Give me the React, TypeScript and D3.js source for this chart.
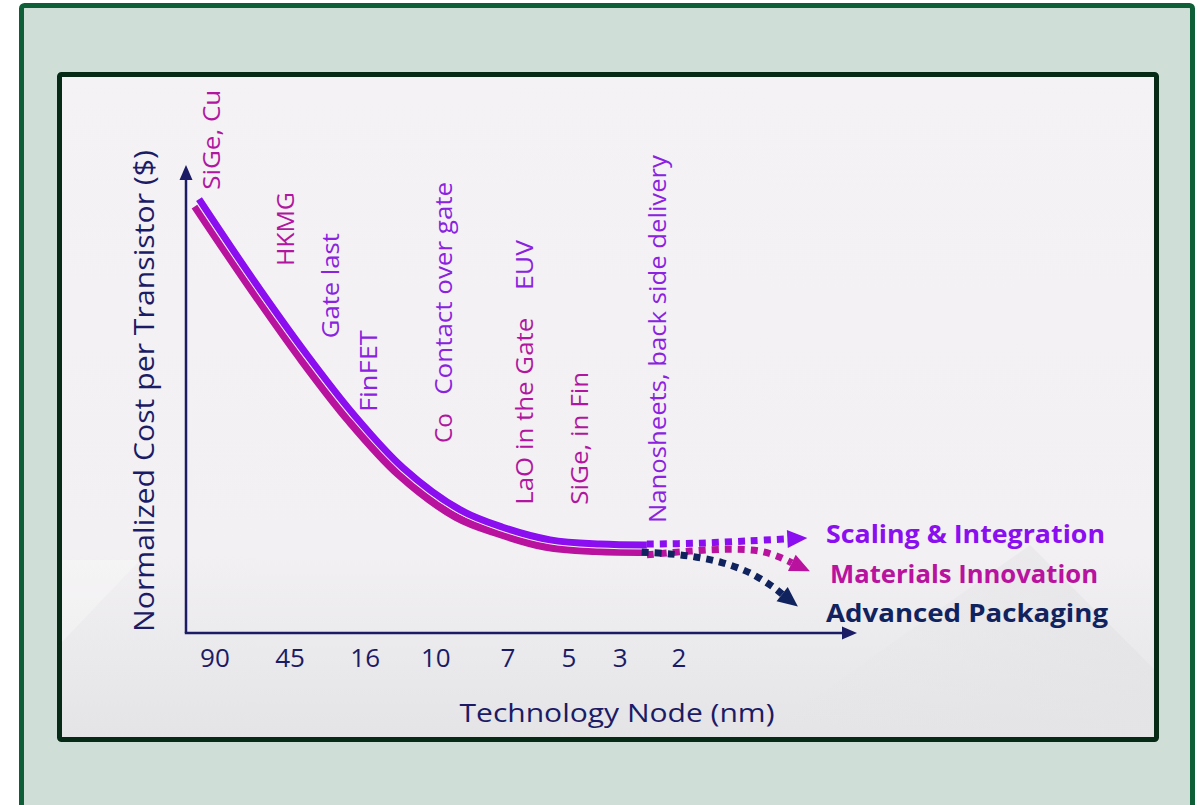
import React from "react";
import * as d3 from "d3";

// technology nodes on the x axis (positions in axis units)
const nodeLabels = ["90", "45", "16", "10", "7", "5", "3", "2"];
const nodePos = [0.39, 1.4, 2.41, 3.36, 4.33, 5.15, 5.84, 6.63];

// normalized cost per transistor, solid history curves
const scalingX = [0.175, 0.9, 1.63, 2.25, 2.92, 3.69, 4.26, 4.9, 5.57, 6.2];
const scalingY = [0.927, 0.756, 0.594, 0.468, 0.353, 0.263, 0.226, 0.199, 0.19, 0.188];
const materialsX = [0.121, 0.848, 1.574, 2.193, 2.866, 3.632, 4.211, 4.843, 5.516, 6.2];
const materialsY = [0.912, 0.741, 0.579, 0.453, 0.338, 0.248, 0.212, 0.184, 0.175, 0.173];

// projected (dotted) paths
const scalingProjX = [6.2, 6.91, 7.59, 8.09];
const scalingProjY = [0.19, 0.192, 0.197, 0.201];
const materialsProjX = [6.2, 6.78, 7.32, 7.72, 7.99, 8.15];
const materialsProjY = [0.167, 0.175, 0.179, 0.175, 0.162, 0.15];
const packagingProjX = [6.13, 6.51, 6.87, 7.22, 7.59, 7.9, 8.02];
const packagingProjY = [0.173, 0.169, 0.162, 0.15, 0.128, 0.098, 0.083];

const seriesNames = ["Scaling & Integration", "Materials Innovation", "Advanced Packaging"];

// process innovations written up the chart
const annotLabels = ["SiGe, Cu", "HKMG", "Gate last", "FinFET", "Co", "Contact over gate", "LaO in the Gate", "EUV", "SiGe, in Fin", "Nanosheets, back side delivery"];
const annotX = [0.35, 1.345, 1.94, 2.46, 3.47, 3.47, 4.56, 4.56, 5.3, 6.35];
const annotY = [0.947, 0.784, 0.63, 0.472, 0.406, 0.509, 0.274, 0.733, 0.274, 0.235];
const annotKind = ["m", "m", "p", "p", "m", "p", "m", "p", "m", "p"];
const annotLen = [100, 74, 105, 82, 30, 213, 187, 50, 133, 368];

const PURPLE = "#8a0ef0";
const MAGENTA = "#b8129f";
const NAVY = "#10235f";
const AXIS = "#1b1b66";
const FONT = "'Open Sans', 'Noto Sans', sans-serif";

export default function App() {
  const x = d3.scaleLinear().domain([0, 9]).range([186, 855]);
  const y = d3.scaleLinear().domain([0, 1]).range([633, 165]);
  const zip = (a: number[], b: number[]) => a.map((v, i) => [v, b[i]] as [number, number]);
  const line = d3
    .line<[number, number]>()
    .x((d) => x(d[0]))
    .y((d) => y(d[1]))
    .curve(d3.curveCatmullRom.alpha(0.5));

  const arrowHead = (xs: number[], ys: number[], len = 20, hw = 9) => {
    const n = xs.length;
    const x1 = x(xs[n - 2]), y1 = y(ys[n - 2]);
    const x2 = x(xs[n - 1]), y2 = y(ys[n - 1]);
    const d = Math.hypot(x2 - x1, y2 - y1);
    const ux = (x2 - x1) / d, uy = (y2 - y1) / d;
    const tip = [x2 + ux * len, y2 + uy * len];
    return `M${tip[0]},${tip[1]}L${x2 - uy * hw},${y2 + ux * hw}L${x2 + uy * hw},${y2 - ux * hw}Z`;
  };

  const projections = [
    { xs: scalingProjX, ys: scalingProjY, color: PURPLE },
    { xs: materialsProjX, ys: materialsProjY, color: MAGENTA },
    { xs: packagingProjX, ys: packagingProjY, color: NAVY },
  ];
  const legendPos = [
    { x: 826, y: 543, color: PURPLE, len: 279 },
    { x: 830, y: 583, color: MAGENTA, len: 268 },
    { x: 826, y: 622, color: NAVY, len: 282 },
  ];

  return (
    <svg width={1202} height={805} style={{ position: "absolute", left: 0, top: 0 }}>
      <defs>
        <linearGradient id="panel" x1="0" y1="0" x2="0" y2="1">
          <stop offset="0" stopColor="#f4f2f4" />
          <stop offset="0.72" stopColor="#f2f0f2" />
          <stop offset="0.85" stopColor="#ebeaec" />
          <stop offset="1" stopColor="#e4e3e5" />
        </linearGradient>
        <linearGradient id="shade" x1="0" y1="0" x2="1" y2="0">
          <stop offset="0" stopColor="#e4e3e5" stopOpacity={0} />
          <stop offset="1" stopColor="#e4e3e5" stopOpacity={1} />
        </linearGradient>
      </defs>
      <rect x={0} y={0} width={1202} height={805} fill="#ffffff" />
      <rect x={21.5} y={5.5} width={1171} height={840} rx={3} fill="#cfdfd7" stroke="#0e5e38" strokeWidth={5} />
      <rect x={59.5} y={74.5} width={1097} height={665} rx={2} fill="url(#panel)" stroke="#062a15" strokeWidth={5} />
      <polygon points="62,642 140,560 62,560" fill="#ffffff" opacity={0.3} />
      <polygon points="1030,545 1154,669 1154,737 760,737" fill="url(#shade)" opacity={0.8} />

      {/* axes */}
      <line x1={x(0)} y1={y(0)} x2={x(0)} y2={y(1) + 14} stroke={AXIS} strokeWidth={2.5} />
      <path d={`M${x(0)},${y(1)}L${x(0) - 6.5},${y(1) + 15}L${x(0) + 6.5},${y(1) + 15}Z`} fill={AXIS} />
      <line x1={x(0) - 1.2} y1={y(0)} x2={x(9) - 13} y2={y(0)} stroke={AXIS} strokeWidth={2.5} />
      <path d={`M${x(9) + 2},${y(0)}L${x(9) - 13},${y(0) - 6.5}L${x(9) - 13},${y(0) + 6.5}Z`} fill={AXIS} />

      {nodeLabels.map((t, i) => (
        <text key={t} x={x(nodePos[i])} y={667} textAnchor="middle" fontFamily={FONT} fontSize={26} fill={AXIS}>
          {t}
        </text>
      ))}
      <text x={617} y={722} textAnchor="middle" fontFamily={FONT} fontSize={25} fill={AXIS} textLength={315} lengthAdjust="spacingAndGlyphs">
        Technology Node (nm)
      </text>
      <text transform="translate(154,391) rotate(-90)" textAnchor="middle" fontFamily={FONT} fontSize={27} fill={AXIS} textLength={482} lengthAdjust="spacingAndGlyphs">
        Normalized Cost  per Transistor ($)
      </text>

      {/* annotations */}
      {annotLabels.map((t, i) => (
        <text
          key={t}
          transform={`translate(${x(annotX[i])},${y(annotY[i])}) rotate(-90)`}
          dy="0.35em"
          fontFamily={FONT}
          fontSize={24}
          fill={annotKind[i] === "m" ? "#b0169f" : "#8a22e0"}
          textLength={annotLen[i]}
          lengthAdjust="spacingAndGlyphs"
        >
          {t}
        </text>
      ))}

      {/* solid curves */}
      <path d={line(zip(materialsX, materialsY)) || ""} fill="none" stroke={MAGENTA} strokeWidth={8} />
      <path d={line(zip(scalingX, scalingY)) || ""} fill="none" stroke="#f6f4f8" strokeWidth={9} />
      <path d={line(zip(scalingX, scalingY)) || ""} fill="none" stroke={PURPLE} strokeWidth={7} />

      {/* projections */}
      {projections.map((p, i) => (
        <g key={i}>
          <path d={line(zip(p.xs, p.ys)) || ""} fill="none" stroke={p.color} strokeWidth={7} strokeDasharray="7 6" />
          <path d={arrowHead(p.xs, p.ys)} fill={p.color} />
        </g>
      ))}

      {seriesNames.map((s, i) => (
        <text
          key={s}
          x={legendPos[i].x}
          y={legendPos[i].y}
          fontFamily={FONT}
          fontWeight={700}
          fontSize={25}
          fill={legendPos[i].color}
          textLength={legendPos[i].len}
          lengthAdjust="spacingAndGlyphs"
        >
          {s}
        </text>
      ))}
    </svg>
  );
}
